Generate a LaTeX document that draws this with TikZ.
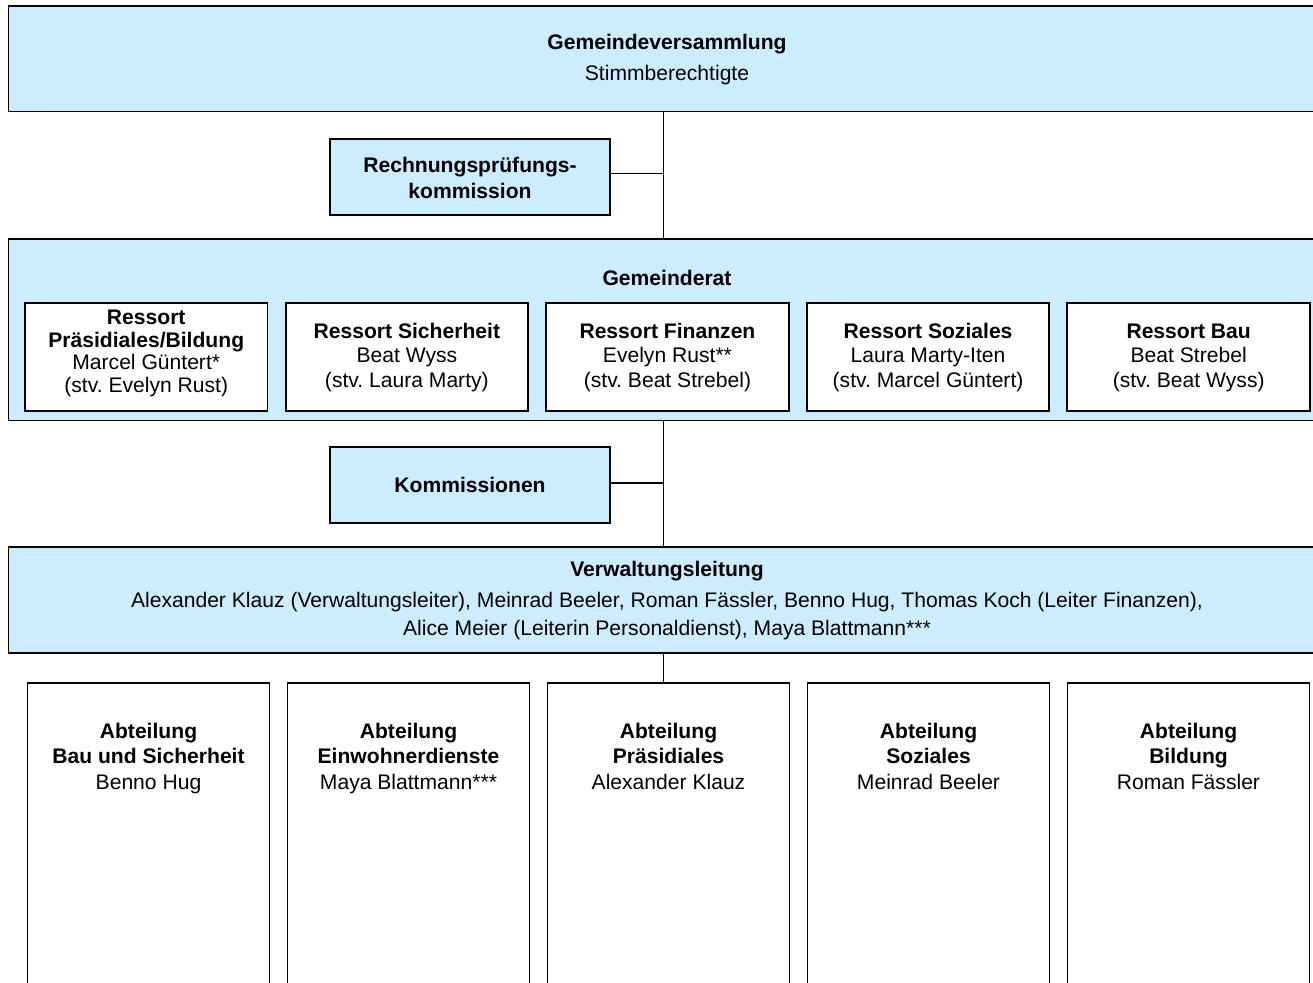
\documentclass[tikz,border=0pt]{standalone}
\usepackage{fontspec}
\setmainfont{Liberation Sans}
\definecolor{lblue}{HTML}{CCECFF}
\frenchspacing
\begin{document}
\begin{tikzpicture}[x=1pt,y=-1pt,
  box/.style={draw=black, line width=1.9pt, inner sep=0pt, outer sep=0pt, anchor=north west},
  bluebox/.style={box, fill=lblue},
  whitebox/.style={box, fill=white},
  txt/.style={anchor=base, inner sep=0pt, outer sep=0pt, font=\fontsize{21.1}{25}\selectfont},
  btxt/.style={txt, font=\fontsize{21.1}{25}\selectfont\bfseries},
  conn/.style={draw=black, line width=1.6pt}]
\useasboundingbox (0,0) rectangle (1313,982);

% Gemeindeversammlung
\node[bluebox, minimum width=1317.5pt, minimum height=105.5pt] (gv) at (8.5,6) {};
\node[btxt] (gvt) at (667,49.8) {Gemeindeversammlung};
\node[txt] (gvs) at (667,80) {Stimmberechtigte};

% Rechnungspruefungskommission
\node[bluebox, minimum width=280.3pt, minimum height=76pt] (rpk) at (330,139) {};
\node[btxt] (rpk1) at (470,172.4) {Rechnungsprüfungs-};
\node[btxt] (rpk2) at (470,198.4) {kommission};

% Gemeinderat
\node[bluebox, minimum width=1317.5pt, minimum height=181.5pt] (gr) at (8.5,239) {};
\node[btxt] (grt) at (667,285.5) {Gemeinderat};

\node[whitebox, minimum width=242.5pt, minimum height=107.7pt] (r1) at (25,303.3) {};
\node[whitebox, minimum width=242.5pt, minimum height=107.7pt] (r2) at (285.6,303.3) {};
\node[whitebox, minimum width=242.5pt, minimum height=107.7pt] (r3) at (546.2,303.3) {};
\node[whitebox, minimum width=242.5pt, minimum height=107.7pt] (r4) at (806.8,303.3) {};
\node[whitebox, minimum width=242.5pt, minimum height=107.7pt] (r5) at (1067.4,303.3) {};

\node[btxt] (r1a) at (146.25,324.5) {Ressort};
\node[btxt] (r1b) at (146.25,347.2) {Präsidiales/Bildung};
\node[txt]  (r1c) at (146.25,369.9) {Marcel Güntert*};
\node[txt]  (r1d) at (146.25,392.6) {(stv. Evelyn Rust)};

\node[btxt] (r2a) at (406.85,338) {Ressort Sicherheit};
\node[txt]  (r2b) at (406.85,362.6) {Beat Wyss};
\node[txt]  (r2c) at (406.85,387.2) {(stv. Laura Marty)};

\node[btxt] (r3a) at (667.45,338) {Ressort Finanzen};
\node[txt]  (r3b) at (667.45,362.6) {Evelyn Rust**};
\node[txt]  (r3c) at (667.45,387.2) {(stv. Beat Strebel)};

\node[btxt] (r4a) at (928.05,338) {Ressort Soziales};
\node[txt]  (r4b) at (928.05,362.6) {Laura Marty-Iten};
\node[txt]  (r4c) at (928.05,387.2) {(stv. Marcel Güntert)};

\node[btxt] (r5a) at (1188.65,338) {Ressort Bau};
\node[txt]  (r5b) at (1188.65,362.6) {Beat Strebel};
\node[txt]  (r5c) at (1188.65,387.2) {(stv. Beat Wyss)};

% Kommissionen
\node[bluebox, minimum width=280.3pt, minimum height=76pt] (kom) at (330,446.7) {};
\node[btxt] (komt) at (470,492.3) {Kommissionen};

% Verwaltungsleitung
\node[bluebox, minimum width=1317.5pt, minimum height=106pt] (vl) at (8.5,546.7) {};
\node[btxt] (vl1) at (667,576) {Verwaltungsleitung};
\node[txt]  (vl2) at (667,607) {Alexander Klauz (Verwaltungsleiter), Meinrad Beeler, Roman Fässler, Benno Hug, Thomas Koch (Leiter Finanzen),};
\node[txt]  (vl3) at (667,635) {Alice Meier (Leiterin Personaldienst), Maya Blattmann***};

% Abteilungen
\node[whitebox, minimum width=242pt, minimum height=330pt] (a1) at (27.5,683.3) {};
\node[whitebox, minimum width=242pt, minimum height=330pt] (a2) at (287.5,683.3) {};
\node[whitebox, minimum width=242pt, minimum height=330pt] (a3) at (547.5,683.3) {};
\node[whitebox, minimum width=242pt, minimum height=330pt] (a4) at (807.5,683.3) {};
\node[whitebox, minimum width=242pt, minimum height=330pt] (a5) at (1067.5,683.3) {};

\node[btxt] (a1a) at (148.5,738.8) {Abteilung};
\node[btxt] (a1b) at (148.5,763.6) {Bau und Sicherheit};
\node[txt]  (a1c) at (148.5,789.8) {Benno Hug};

\node[btxt] (a2a) at (408.5,738.8) {Abteilung};
\node[btxt] (a2b) at (408.5,763.6) {Einwohnerdienste};
\node[txt]  (a2c) at (408.5,789.8) {Maya Blattmann***};

\node[btxt] (a3a) at (668.5,738.8) {Abteilung};
\node[btxt] (a3b) at (668.5,763.6) {Präsidiales};
\node[txt]  (a3c) at (668.5,789.8) {Alexander Klauz};

\node[btxt] (a4a) at (928.5,738.8) {Abteilung};
\node[btxt] (a4b) at (928.5,763.6) {Soziales};
\node[txt]  (a4c) at (928.5,789.8) {Meinrad Beeler};

\node[btxt] (a5a) at (1188.5,738.8) {Abteilung};
\node[btxt] (a5b) at (1188.5,763.6) {Bildung};
\node[txt]  (a5c) at (1188.5,789.8) {Roman Fässler};

% Connectors
\coordinate (sp) at (663.5,0);
\coordinate (c1) at (663.5,173.5);
\coordinate (c2) at (663.5,483);
\draw[conn] (sp |- gv.south) -- (sp |- gr.north);
\draw[conn] (rpk.east |- c1) -- (c1);
\draw[conn] (sp |- gr.south) -- (sp |- vl.north);
\draw[conn] (kom.east |- c2) -- (c2);
\draw[conn] (sp |- vl.south) -- (sp |- a3.north);
\end{tikzpicture}
\end{document}
